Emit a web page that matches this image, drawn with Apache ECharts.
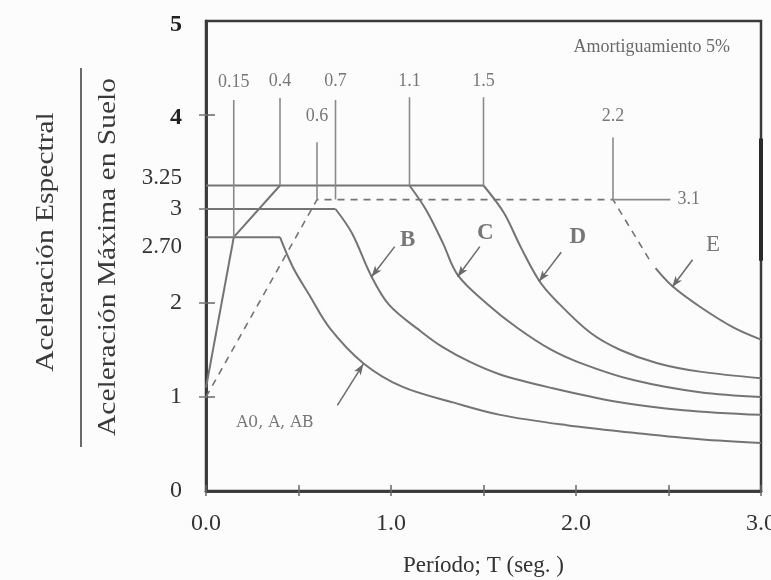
<!DOCTYPE html>
<html>
<head>
<meta charset="utf-8">
<script src="https://cdn.jsdelivr.net/npm/echarts@6/dist/echarts.min.js"></script>
<style>
  html, body { margin: 0; padding: 0; background: #fcfcfc; }
  #chart { width: 771px; height: 580px; }
</style>
</head>
<body>
<div id="chart"></div>
<script>
// ---- axis ticks and labels ----
const xLabelValues = [0, 1, 2, 3];
const xTickLabels = ['0.0', '1.0', '2.0', '3.0'];
const yLabelValues = [0, 1, 2, 2.7, 3, 3.25, 4, 5];
const yTickLabels = ['0', '1', '2', '2.70', '3', '3.25', '4', '5'];
const yTickValues = [1, 2, 3, 4];

// ---- shared branches of soil profiles A0..D ----
const rampT = [0, 0.15];          // initial ramp
const rampV = [1.1, 2.7];
const riseT = [0.15, 0.4];        // rise to the 3.25 plateau
const riseV = [2.7, 3.25];

// plateau levels, drawn from T = 0 to where each plateau ends
const plateauLevels = [3.25, 3.0, 2.7];
const plateauEnds = [1.5, 0.7, 0.4];

// ---- descending branches ----
const aT = [0.4, 0.47, 0.56, 0.67, 0.85, 1.06, 1.34, 1.59, 1.95, 2.31, 2.67, 3.0];
const aV = [2.7, 2.38, 2.08, 1.73, 1.36, 1.11, 0.94, 0.81, 0.70, 0.62, 0.55, 0.51];

const bT = [0.7, 0.79, 0.89, 0.99, 1.16, 1.28, 1.43, 1.59, 1.86, 2.22, 2.58, 3.0];
const bV = [3.0, 2.74, 2.30, 1.98, 1.70, 1.53, 1.37, 1.24, 1.10, 0.95, 0.86, 0.81];

const cT = [1.1, 1.19, 1.28, 1.36, 1.52, 1.68, 1.86, 2.04, 2.31, 2.67, 3.0];
const cV = [3.25, 2.99, 2.64, 2.30, 1.99, 1.74, 1.51, 1.35, 1.18, 1.05, 1.0];

const dT = [1.5, 1.61, 1.70, 1.80, 1.89, 2.08, 2.24, 2.44, 2.67, 3.0];
const dV = [3.25, 2.96, 2.60, 2.24, 2.03, 1.68, 1.50, 1.36, 1.27, 1.20];

// ---- soil profile E ----
const eDashT = [0, 0.6, 2.2, 2.40];
const eDashV = [1.0, 3.1, 3.1, 2.45];
const eT = [2.43, 2.52, 2.67, 2.85, 3.0];
const eV = [2.37, 2.18, 1.96, 1.74, 1.61];
const eGuideT = [2.2, 2.51];
const eGuideV = [3.1, 3.1];

// ---- corner periods marked with vertical lines ----
const markerT = [0.15, 0.4, 0.6, 0.7, 1.1, 1.5, 2.2];
const markerLow = [2.7, 3.25, 3.1, 3.1, 3.25, 3.25, 3.1];
const markerHigh = [4.16, 4.18, 3.71, 4.16, 4.19, 4.19, 3.76];
const markerText = ['0.15', '0.4', '0.6', '0.7', '1.1', '1.5', '2.2'];
const markerLabelV = [4.35, 4.36, 3.99, 4.36, 4.36, 4.36, 3.99];

// ---- curve names and pointer arrows ----
const curveNames = ['A0, A, AB', 'B', 'C', 'D', 'E'];
const curveNameT = [0.373, 1.09, 1.51, 2.01, 2.74];
const curveNameV = [0.73, 2.67, 2.74, 2.70, 2.62];
const arrowFrom = [[0.71, 0.91], [1.02, 2.60], [1.48, 2.60], [1.92, 2.54], [2.63, 2.46]];
const arrowTo = [[0.85, 1.35], [0.895, 2.28], [1.36, 2.28], [1.80, 2.23], [2.52, 2.17]];

const SERIF = 'Liberation Serif';
const LINE = '#747474';
const FRAME = '#3a3a3a';

const pts = (T, V) => T.map((t, i) => [t, V[i]]);
function line(T, V, extra) {
  return Object.assign({
    type: 'line', data: pts(T, V), symbol: 'none', silent: true,
    lineStyle: { color: LINE, width: 2 }, z: 3
  }, extra || {});
}

const series = [];
series.push(line(rampT, rampV));
series.push(line(riseT, riseV));
plateauLevels.forEach((lv, i) => series.push(line([0, plateauEnds[i]], [lv, lv])));
[[aT, aV], [bT, bV], [cT, cV], [dT, dV]].forEach(([T, V]) =>
  series.push(line(T, V, { smooth: 0.35 })));
series.push(line(eDashT, eDashV, { lineStyle: { color: LINE, width: 1.6, type: [7, 6] } }));
series.push(line(eT, eV, { smooth: 0.35 }));
series.push(line(eGuideT, eGuideV, { lineStyle: { color: '#8a8a8a', width: 1.6 } }));

// vertical period markers
markerT.forEach((t, i) => series.push(line([t, t], [markerLow[i], markerHigh[i]],
  { lineStyle: { color: '#8a8a8a', width: 1.6 } })));

// arrows pointing at each curve, plus the heavy stroke on the right frame
series.push({
  type: 'line', data: [], silent: true,
  markLine: {
    silent: true, symbol: ['none', 'arrow'], symbolSize: [6, 11],
    label: { show: false },
    lineStyle: { color: '#6a6a6a', width: 1.5, type: 'solid' },
    data: arrowFrom.map((f, i) => [{ coord: f }, { coord: arrowTo[i] }])
      .concat([[{ coord: [3.0, 3.75], symbol: 'none', lineStyle: { color: '#2a2a2a', width: 4 } },
                { coord: [3.0, 2.45], symbol: 'none' }]])
  }
});

// text labels placed in data coordinates
function textSeries(T, V, texts, style) {
  return {
    type: 'scatter', silent: true, symbolSize: 0, z: 6,
    data: T.map((t, i) => ({ value: [t, V[i]], name: texts[i] })),
    label: Object.assign({ show: true, position: 'inside', formatter: p => p.name }, style)
  };
}
series.push(textSeries(markerT, markerLabelV, markerText,
  { fontFamily: SERIF, fontSize: 18, color: '#555' }));
series.push(textSeries([2.61], [3.1], ['3.1'],
  { fontFamily: SERIF, fontSize: 18, color: '#555' }));
series.push(textSeries([2.41], [4.72], ['Amortiguamiento 5%'],
  { fontFamily: SERIF, fontSize: 18, color: '#444' }));
series.push(textSeries(curveNameT.slice(1, 4), curveNameV.slice(1, 4), curveNames.slice(1, 4),
  { fontFamily: SERIF, fontSize: 23, fontWeight: 'bold', color: '#555' }));
series.push(textSeries(curveNameT.slice(4), curveNameV.slice(4), curveNames.slice(4),
  { fontFamily: SERIF, fontSize: 23, color: '#555' }));
series.push(textSeries(curveNameT.slice(0, 1), curveNameV.slice(0, 1), curveNames.slice(0, 1),
  { fontFamily: 'DejaVu Serif', fontSize: 16, color: '#555' }));

const yRich = {
  n: { fontFamily: SERIF, fontSize: 24, color: '#333' },
  b: { fontFamily: SERIF, fontSize: 24, color: '#222', fontWeight: 'bold', padding: [8, 0, 0, 0] },
  k: { fontFamily: SERIF, fontSize: 24, color: '#222', fontWeight: 'bold', padding: [5, 0, 0, 0] },
  up: { fontFamily: SERIF, fontSize: 23, color: '#333', padding: [0, 0, 16, 0] },
  dn: { fontFamily: SERIF, fontSize: 23, color: '#333', padding: [20, 0, 0, 0] }
};
function yFormatter(v) {
  const txt = yTickLabels[yLabelValues.indexOf(v)];
  if (v === 5) return '{b|' + txt + '}';
  if (v === 4) return '{k|' + txt + '}';
  if (v === 3.25) return '{up|' + txt + '}';
  if (v === 2.7) return '{dn|' + txt + '}';
  return '{n|' + txt + '}';
}

const frameAxis = {
  axisLine: { show: true, lineStyle: { color: FRAME, width: 2.5 } },
  splitLine: { show: false }
};

const option = {
  backgroundColor: '#fcfcfc',
  animation: false,
  grid: {
    left: 206, right: 10, top: 21, bottom: 89, show: true,
    borderColor: FRAME, borderWidth: 2.5, outerBoundsMode: 'none', containLabel: false
  },
  xAxis: [
    Object.assign({
      type: 'value', min: 0, max: 3, interval: 0.5, position: 'bottom',
      axisTick: { show: true, inside: true, length: 6, lineStyle: { color: '#666', width: 1.5 } },
      axisLabel: {
        customValues: xLabelValues,
        formatter: v => xTickLabels[xLabelValues.indexOf(v)],
        fontFamily: SERIF, fontSize: 24, color: '#333', margin: 21
      },
      name: 'Período; T (seg. )', nameLocation: 'middle', nameGap: 63,
      nameTextStyle: { fontFamily: SERIF, fontSize: 23, color: '#333' }
    }, frameAxis),
    Object.assign({
      type: 'value', min: 0, max: 3, interval: 0.5, position: 'top',
      axisTick: { show: true, inside: true, length: 5, lineStyle: { color: '#666', width: 1.5 } },
      axisLabel: { show: false }
    }, frameAxis)
  ],
  yAxis: [
    Object.assign({
      type: 'value', min: 0, max: 5, interval: 1, position: 'left',
      axisTick: { show: true, inside: true, length: 9, customValues: yTickValues, lineStyle: { color: '#666', width: 1.5 } },
      axisLabel: { customValues: yLabelValues, formatter: yFormatter, rich: yRich, margin: 24 }
    }, frameAxis),
    Object.assign({
      type: 'value', min: 0, max: 5, interval: 1, position: 'right',
      axisTick: { show: true, inside: true, length: 7, customValues: yTickValues, lineStyle: { color: '#777', width: 1.5 } },
      axisLabel: { show: false }
    }, frameAxis)
  ],
  graphic: [
    {
      type: 'text', x: 46, y: 242, rotation: Math.PI / 2, scaleX: 1.18,
      style: { text: 'Aceleración Espectral', font: '25px "Liberation Serif"', fill: '#3a3a3a',
               textAlign: 'center', textVerticalAlign: 'middle' }
    },
    {
      type: 'line', shape: { x1: 81, y1: 68, x2: 81, y2: 447 },
      style: { stroke: '#6a6a6a', lineWidth: 2 }
    },
    {
      type: 'text', x: 108, y: 257, rotation: Math.PI / 2, scaleX: 1.18,
      style: { text: 'Aceleración Máxima en Suelo', font: '25px "Liberation Serif"', fill: '#3a3a3a',
               textAlign: 'center', textVerticalAlign: 'middle' }
    }
  ],
  series: series
};

const chart = echarts.init(document.getElementById('chart'), null, { renderer: 'canvas' });
chart.setOption(option);
</script>
</body>
</html>
